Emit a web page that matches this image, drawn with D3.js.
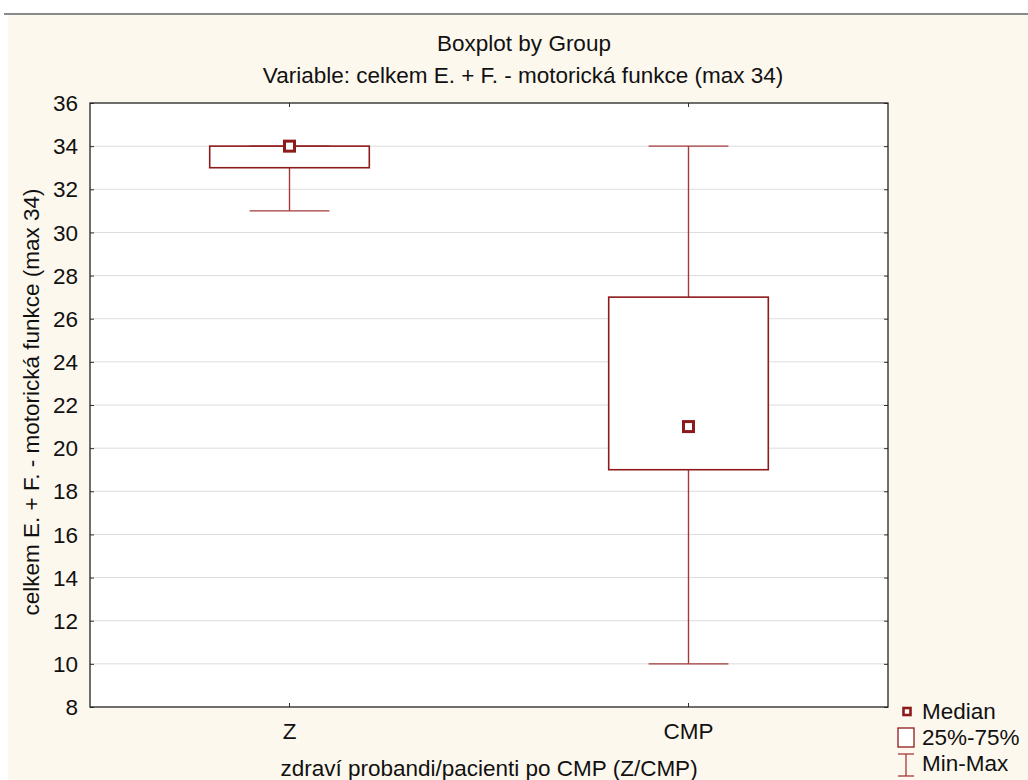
<!DOCTYPE html>
<html>
<head>
<meta charset="utf-8">
<script src="https://cdn.jsdelivr.net/npm/d3@7"></script>
<style>
  html, body { margin: 0; padding: 0; background: #ffffff; }
  svg { display: block; }
  text { font-family: "Liberation Sans", Arial, sans-serif; fill: #111; }
</style>
</head>
<body>
<svg id="chart" width="1028" height="780"></svg>
<script>
// Group labels and box statistics
const groups = ["Z", "CMP"];
const mins = [31, 10];
const q1s = [33, 19];
const medians = [34, 21];
const q3s = [34, 27];
const maxs = [34, 34];
const yTicks = [8, 10, 12, 14, 16, 18, 20, 22, 24, 26, 28, 30, 32, 34, 36];
const legendLabels = ["Median", "25%-75%", "Min-Max"];

const title = "Boxplot by Group";
const subtitle = "Variable: celkem E. + F. - motorická funkce (max 34)";
const xTitle = "zdraví probandi/pacienti po CMP (Z/CMP)";
const yTitle = "celkem E. + F. - motorická funkce (max 34)";

const W = 1028, H = 780;
const plot = { left: 90, right: 888, top: 103, bottom: 707 };
const red = "#8e1b1b";
const redLight = "#a33a3a";
const fs = 22.5;

const svg = d3.select("#chart");

// page background with rule across the top
svg.append("rect").attr("x", 8).attr("y", 15).attr("width", W - 8).attr("height", H - 15)
  .attr("fill", "#fdf8ee");
svg.append("line").attr("x1", 4).attr("x2", W).attr("y1", 14).attr("y2", 14)
  .attr("stroke", "#8a8a8a").attr("stroke-width", 2);

const x = d3.scaleBand().domain(groups).range([plot.left, plot.right]);
const y = d3.scaleLinear().domain([8, 36]).range([plot.bottom, plot.top]);

// plot area
svg.append("rect").attr("x", plot.left).attr("y", plot.top)
  .attr("width", plot.right - plot.left).attr("height", plot.bottom - plot.top)
  .attr("fill", "#ffffff");

// horizontal grid
svg.append("g").selectAll("line").data(yTicks.filter(d => d > 8 && d < 36)).join("line")
  .attr("x1", plot.left).attr("x2", plot.right)
  .attr("y1", d => y(d)).attr("y2", d => y(d))
  .attr("stroke", "#dcdcdc").attr("stroke-width", 1);

// axes (ticks point inward on all four sides)
const tick = 4;
const yLeft = svg.append("g").attr("transform", `translate(${plot.left},0)`)
  .call(d3.axisRight(y).tickValues(yTicks).tickSize(tick).tickFormat(""));
const yRight = svg.append("g").attr("transform", `translate(${plot.right},0)`)
  .call(d3.axisLeft(y).tickValues(yTicks).tickSize(tick).tickFormat(""));
const xBottom = svg.append("g").attr("transform", `translate(0,${plot.bottom})`)
  .call(d3.axisTop(x).tickSize(tick).tickFormat(""));
const xTop = svg.append("g").attr("transform", `translate(0,${plot.top})`)
  .call(d3.axisBottom(x).tickSize(tick).tickFormat(""));
[yLeft, yRight, xBottom, xTop].forEach(g => {
  g.select(".domain").remove();
  g.selectAll(".tick line").attr("stroke", "#333").attr("stroke-width", 1);
});

// frame
svg.append("rect").attr("x", plot.left).attr("y", plot.top)
  .attr("width", plot.right - plot.left).attr("height", plot.bottom - plot.top)
  .attr("fill", "none").attr("stroke", "#222").attr("stroke-width", 1.3);

// y tick labels
svg.append("g").selectAll("text").data(yTicks).join("text")
  .attr("x", plot.left - 12).attr("y", d => y(d)).attr("dy", "0.36em")
  .attr("text-anchor", "end").attr("font-size", fs).text(d => d);

// x tick labels
svg.append("g").selectAll("text").data(groups).join("text")
  .attr("x", d => x(d) + x.bandwidth() / 2).attr("y", 739)
  .attr("text-anchor", "middle").attr("font-size", fs).text(d => d);

// titles
svg.append("text").attr("x", 524).attr("y", 51).attr("text-anchor", "middle")
  .attr("font-size", fs).text(title);
svg.append("text").attr("x", 523).attr("y", 83).attr("text-anchor", "middle")
  .attr("font-size", fs).text(subtitle);
svg.append("text").attr("x", 489).attr("y", 776).attr("text-anchor", "middle")
  .attr("font-size", fs).text(xTitle);
svg.append("text").attr("transform", `translate(39,402) rotate(-90)`)
  .attr("text-anchor", "middle").attr("font-size", fs).text(yTitle);

// boxes
const boxW = x.bandwidth() * 0.4;
const capW = boxW / 2;
const stats = groups.map((g, i) => ({ g, min: mins[i], q1: q1s[i], med: medians[i], q3: q3s[i], max: maxs[i] }));
const gBox = svg.append("g").selectAll("g").data(stats).join("g")
  .attr("transform", d => `translate(${x(d.g) + x.bandwidth() / 2},0)`);

// whiskers
gBox.append("line").attr("x1", 0).attr("x2", 0)
  .attr("y1", d => y(d.q3)).attr("y2", d => y(d.max))
  .attr("stroke", redLight).attr("stroke-width", 1.4);
gBox.append("line").attr("x1", 0).attr("x2", 0)
  .attr("y1", d => y(d.q1)).attr("y2", d => y(d.min))
  .attr("stroke", redLight).attr("stroke-width", 1.4);
gBox.append("line").attr("x1", -capW / 2).attr("x2", capW / 2)
  .attr("y1", d => y(d.max)).attr("y2", d => y(d.max))
  .attr("stroke", redLight).attr("stroke-width", 1.4);
gBox.append("line").attr("x1", -capW / 2).attr("x2", capW / 2)
  .attr("y1", d => y(d.min)).attr("y2", d => y(d.min))
  .attr("stroke", redLight).attr("stroke-width", 1.4);

// interquartile box
gBox.append("rect").attr("x", -boxW / 2).attr("width", boxW)
  .attr("y", d => y(d.q3)).attr("height", d => y(d.q1) - y(d.q3))
  .attr("fill", "#ffffff").attr("stroke", red).attr("stroke-width", 1.6);

// median marker
gBox.append("rect").attr("x", -5).attr("width", 10)
  .attr("y", d => y(d.med) - 5).attr("height", 10)
  .attr("fill", "#ffffff").attr("stroke", red).attr("stroke-width", 3);

// legend
const lg = svg.append("g");
lg.append("rect").attr("x", 903.5).attr("y", 708).attr("width", 7).attr("height", 7)
  .attr("fill", "#fff").attr("stroke", red).attr("stroke-width", 2.6);
lg.append("rect").attr("x", 898).attr("y", 728).attr("width", 16).attr("height", 19)
  .attr("fill", "#fff").attr("stroke", red).attr("stroke-width", 1.3);
lg.append("line").attr("x1", 898).attr("x2", 914).attr("y1", 754).attr("y2", 754)
  .attr("stroke", redLight).attr("stroke-width", 1.3);
lg.append("line").attr("x1", 898).attr("x2", 914).attr("y1", 776).attr("y2", 776)
  .attr("stroke", redLight).attr("stroke-width", 1.3);
lg.append("line").attr("x1", 906).attr("x2", 906).attr("y1", 754).attr("y2", 776)
  .attr("stroke", redLight).attr("stroke-width", 1.3);
lg.selectAll("text").data(legendLabels).join("text")
  .attr("x", 922).attr("y", (d, i) => 719 + i * 26)
  .attr("font-size", fs).text(d => d);
</script>
</body>
</html>
